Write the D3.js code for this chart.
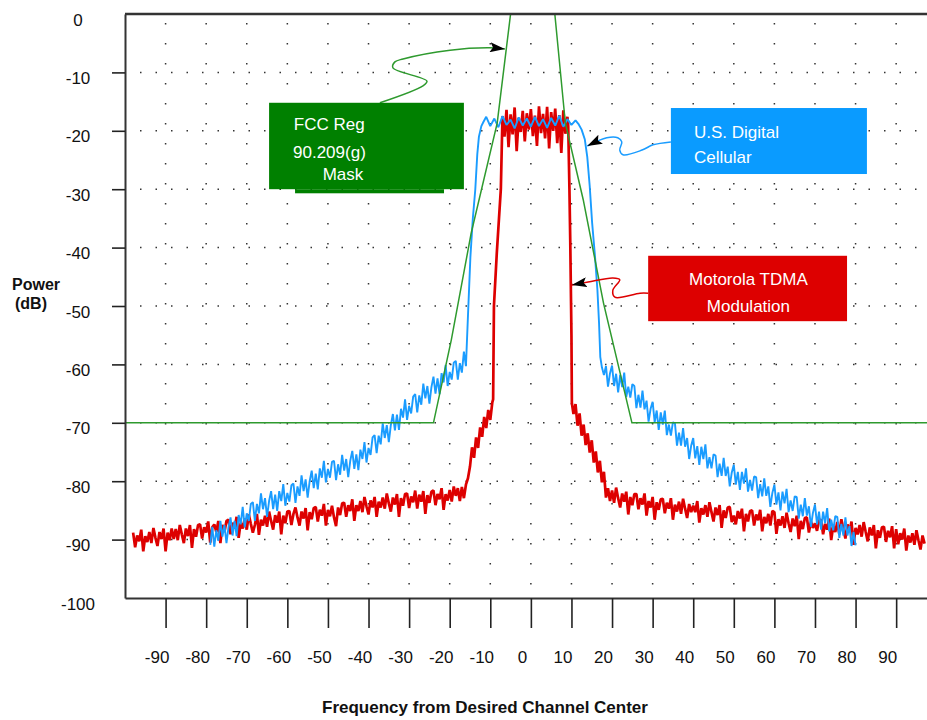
<!DOCTYPE html>
<html lang="en">

<head>
    <meta charset="utf-8">
    <script src='https://d3js.org/d3.v7.min.js'></script>
    <style>
        body { margin: 0; background: #fff; }
    </style>
</head>

<body>
    <div class="chart"></div>

    <script>
        // Tick labels
        const xTicks = [-90, -80, -70, -60, -50, -40, -30, -20, -10, 0, 10, 20, 30, 40, 50, 60, 70, 80, 90];
        const yTicks = [0, -10, -20, -30, -40, -50, -60, -70, -80, -90, -100];

        // FCC 90.209(g) mask (freq, dB)
        const maskFreq = [-100, -24, -19.6, -14.7, -8.3, -5, 5.9, 8.5, 12.9, 17.9, 24.9, 97.6];
        const maskPower = [-70, -70, -55.8, -37.5, -18.7, 0, 0, -18.7, -31.8, -49.5, -70, -70];

        // U.S. Digital Cellular trace
        const blueLowStart = -79; // half unit steps
        const blueLow = [-90.9, -87.8, -91.2, -88.4, -90.2, -86.8, -89.5, -87.5, -90.6, -87.9,
            -86.2, -89.3, -86.8, -89.4, -85.8, -87.4, -84.4, -87.9, -85.5, -86.8,
            -83.9, -83.6, -86.8, -83.9, -85.5, -82.1, -84.8, -82.9, -86.1, -83.4,
            -81.7, -84.8, -82.3, -85.1, -81.7, -83.4, -80.5, -84.2, -82.0, -83.5,
            -80.7, -80.4, -83.7, -80.9, -82.5, -79.0, -81.7, -79.7, -82.8, -80.0,
            -78.2, -81.2, -78.7, -81.4, -77.8, -79.4, -76.5, -80.2, -77.9, -79.4,
            -76.7, -76.5, -79.8, -77.1, -78.9, -75.5, -78.2, -76.2, -79.3, -76.5,
            -74.8, -77.9, -75.4, -78.1, -74.6, -76.2, -73.3, -76.8, -74.3, -75.5,
            -72.5, -72.1, -75.2, -72.2, -73.7, -70.1, -72.6, -70.4, -73.3, -70.4,
            -68.5, -71.3, -68.6, -71.2, -67.6, -69.1, -66.0, -69.5, -67.1, -68.4,
            -65.5, -65.1, -68.2, -65.3, -66.9, -63.3, -65.8, -63.7, -66.7, -63.9,
            -62.1, -65.0, -62.4, -65.1, -61.5, -63.1, -60.1, -63.7, -61.3, -62.6,
            -59.7, -59.4, -62.6, -59.8, -61.4, -57.8, -60.3];
        const blueEdgeFreq = [-15.4, -14.9, -14.3, -13.7, -13.2, -12.8, -12.2, -11.7];
        const blueEdgePower = [-50, -41.6, -35, -30.1, -24, -21, -19.2, -18.5];
        const blueTopStart = -11; // one value per unit
        const blueTop = [-17.6, -19.2, -17.9, -19.4, -17.5, -19.0, -18.1, -19.6, -17.7, -19.1,
            -17.9, -19.3, -17.6, -19.2, -18.0, -19.5, -17.8, -19.1, -17.4, -19.3,
            -18.0, -19.0, -18.2];
        const blueFallFreq = [11.7, 12.5, 13.3, 13.9, 14.5, 15.1, 15.8, 16.4, 16.8, 17.1, 17.5];
        const blueFallPower = [-18.8, -19.8, -21.5, -24.5, -29.5, -35.8, -41.5, -47.3, -53, -58.7, -60.5];
        const blueHighStart = 18; // half unit steps
        const blueHigh = [-61.8, -60.3, -63.8, -61.5, -60.2, -63.7, -61.6, -64.8, -61.8, -63.9,
            -61.4, -65.6, -63.8, -65.7, -63.4, -63.7, -67.5, -65.2, -67.4, -64.5,
            -67.7, -66.2, -69.8, -67.6, -66.4, -69.9, -67.9, -71.2, -68.2, -70.3,
            -67.9, -72.1, -70.3, -72.2, -69.9, -70.1, -73.9, -71.7, -73.9, -70.9,
            -74.1, -72.6, -76.2, -73.9, -72.6, -76.1, -74.0, -77.2, -74.1, -76.2,
            -73.7, -77.8, -75.9, -77.8, -75.4, -75.6, -79.3, -77.0, -79.1, -76.0,
            -79.1, -77.5, -80.9, -78.5, -77.2, -80.6, -78.4, -81.5, -78.4, -80.4,
            -77.8, -81.8, -79.8, -81.6, -79.2, -79.3, -82.9, -80.5, -82.6, -79.5,
            -82.5, -80.9, -84.4, -82.0, -80.6, -84.0, -81.9, -85.0, -81.8, -83.8,
            -81.3, -85.3, -83.3, -85.1, -82.6, -82.7, -86.4, -84.0, -86.0, -82.9,
            -85.9, -84.3, -87.8, -85.4, -84.0, -87.4, -85.2, -88.3, -85.2, -87.2,
            -84.6, -88.6, -86.6, -88.4, -86.0, -86.1, -89.7, -87.3, -89.3, -86.2,
            -89.3, -87.7, -91.1, -88.7, -91.0];

        // Motorola TDMA trace
        const redLowStart = -98; // half unit steps
        const redLow = [-88.8, -91.3, -89.3, -90.3, -88.3, -92.0, -89.4, -90.4, -88.7, -90.6,
            -88.0, -89.7, -91.1, -88.7, -89.9, -88.1, -92.0, -88.8, -90.1, -88.1,
            -89.9, -88.2, -90.1, -87.5, -89.1, -90.6, -88.1, -89.4, -87.5, -91.4,
            -88.2, -89.5, -87.5, -87.4, -89.8, -87.9, -88.8, -86.9, -90.5, -87.9,
            -87.4, -88.7, -86.8, -90.6, -87.5, -88.7, -86.8, -86.6, -89.1, -87.1,
            -88.1, -86.1, -89.7, -87.1, -88.1, -86.4, -88.3, -85.7, -87.3, -88.8,
            -87.5, -85.6, -89.2, -86.6, -87.6, -85.9, -87.8, -85.2, -86.8, -88.3,
            -85.8, -87.1, -85.2, -89.1, -85.9, -87.2, -85.2, -85.1, -87.5, -85.6,
            -84.5, -86.2, -87.6, -85.2, -86.4, -84.6, -88.4, -85.3, -86.5, -84.6,
            -84.4, -86.9, -84.9, -85.9, -83.9, -87.6, -84.9, -86.0, -84.2, -86.2,
            -87.7, -84.5, -85.8, -83.8, -83.7, -86.1, -84.1, -85.1, -83.1, -86.8,
            -84.1, -85.1, -83.4, -85.3, -82.7, -84.3, -85.7, -83.3, -84.5, -82.7,
            -86.1, -83.5, -84.5, -82.8, -84.7, -82.1, -83.8, -85.2, -82.8, -84.0,
            -82.2, -86.1, -82.9, -84.2, -82.2, -82.1, -84.6, -82.6, -83.6, -81.6,
            -84.7, -82.3, -83.5, -81.7, -85.6, -82.4, -83.7, -81.8, -81.6, -84.1,
            -82.2, -83.1, -81.2, -84.9, -82.2, -83.3, -81.5, -83.5, -80.9, -82.5,
            -81.2, -83.4, -81.0, -82.9, -80.6];
        const redRiseFreq = [-15.5, -15, -14.5, -14, -13.5, -13, -12.5, -12, -11.5, -11,
            -10.5, -10, -9.5, -9.3, -9.1, -8.4, -7.4, -7.0];
        const redRisePower = [-79.5, -77.5, -74.2, -76.0, -72.5, -74.3, -70.8, -72.4, -69.0, -70.9,
            -67.8, -69.5, -66.5, -66, -50, -41, -30, -17.5];
        const redTopStart = -6.5; // half unit steps
        const redTop = [-21.0, -16.4, -22.8, -17.2, -20.6, -16.0, -23.5, -17.8, -20.2, -16.6,
            -21.8, -17.0, -19.8, -16.3, -20.9, -17.4, -22.6, -15.8, -20.4, -17.1,
            -21.3, -15.9, -23.0, -16.8, -20.0, -16.2, -22.1, -17.3, -23.8, -16.5,
            -20.5, -17.6];
        const redFallFreq = [9.2, 9.5, 9.7, 10.0, 10.1, 10.5, 11, 11.5, 12, 12.5,
            13, 13.5, 14, 14.5, 15, 15.5, 16, 16.5, 17, 17.5, 18, 18.5, 19, 19.5];
        const redFallPower = [-19, -30, -38.7, -55, -66.6, -68.5, -66.8, -70.5, -68.4, -72.2,
            -70.3, -73.8, -71.8, -75.1, -73.0, -76.8, -74.9, -78.5, -76.5, -80.2,
            -78.4, -82.8, -81.2, -83.4];
        const redHighStart = 20; // half unit steps
        const redHigh = [-81.6, -83.7, -81.1, -82.9, -84.5, -82.1, -83.5, -81.8, -85.7, -82.7,
            -84.1, -82.2, -82.2, -84.8, -82.9, -84.0, -82.1, -85.9, -83.4, -84.5,
            -82.7, -86.6, -83.6, -84.9, -83.1, -83.0, -85.5, -83.7, -84.7, -82.9,
            -86.6, -84.0, -85.2, -83.5, -85.6, -83.0, -84.7, -86.3, -83.9, -85.3,
            -84.2, -85.3, -83.4, -87.1, -84.6, -85.7, -84.1, -86.1, -83.6, -85.3,
            -86.9, -84.5, -85.8, -84.1, -88.0, -85.0, -86.3, -84.5, -84.4, -87.0,
            -85.9, -87.4, -85.1, -86.4, -84.7, -88.6, -85.6, -86.9, -85.1, -85.0,
            -87.6, -85.7, -86.7, -84.9, -88.6, -86.1, -87.2, -85.6, -87.6, -85.1,
            -85.3, -89.0, -86.5, -87.6, -86.0, -88.0, -85.4, -87.2, -88.7, -86.4,
            -87.7, -85.9, -89.9, -86.8, -88.2, -86.3, -86.2, -88.8, -86.9, -88.0,
            -87.2, -88.5, -86.7, -86.6, -89.1, -87.3, -88.3, -86.4, -90.1, -87.6,
            -88.7, -87.0, -89.1, -86.5, -88.2, -89.8, -87.4, -88.7, -86.9, -90.9,
            -88.0, -89.1, -87.5, -89.5, -87.0, -88.7, -90.3, -87.9, -89.3, -87.5,
            -91.5, -88.4, -89.7, -87.9, -87.8, -90.4, -88.5, -89.6, -87.7, -91.5,
            -88.2, -90.8, -88.9, -90.0, -88.1, -91.9, -89.3, -90.5, -88.9, -90.9,
            -88.4, -90.1, -91.7, -89.3, -90.7];

        // helpers to turn the arrays into points
        const pairs = (fs, ps) => fs.map((f, i) => ({ f: f, p: ps[i] }));
        const steps = (start, step, ps) => ps.map((p, i) => ({ f: start + i * step, p: p }));

        const maskData = pairs(maskFreq, maskPower);
        const blueData = [].concat(steps(blueLowStart, 0.5, blueLow), pairs(blueEdgeFreq, blueEdgePower),
            steps(blueTopStart, 1, blueTop), pairs(blueFallFreq, blueFallPower), steps(blueHighStart, 0.5, blueHigh));
        const redData = [].concat(steps(redLowStart, 0.5, redLow), pairs(redRiseFreq, redRisePower),
            steps(redTopStart, 0.5, redTop), pairs(redFallFreq, redFallPower), steps(redHighStart, 0.5, redHigh));

        const width = 927;
        const height = 720;
        const font = "'Liberation Sans', Arial, sans-serif";

        const svg = d3.select(".chart")
            .append("svg")
            .attr("width", width)
            .attr("height", height)
            .style("font-family", font);

        // scales (the frame runs off the right edge)
        const x = d3.scaleLinear().domain([-100, 97.6]).range([125, 927]);
        const y = d3.scaleLinear().domain([0, -100]).range([14, 598]);

        // dotted grid
        svg.append("g").selectAll("line")
            .data(xTicks)
            .join("line")
            .attr("x1", d => x(d)).attr("x2", d => x(d))
            .attr("y1", y(0) + 9).attr("y2", y(-100))
            .attr("stroke", "#333").attr("stroke-width", 1.5)
            .attr("stroke-dasharray", "1.5 18.5");
        svg.append("g").selectAll("line")
            .data(yTicks.slice(1, -1))
            .join("line")
            .attr("x1", x(-100) + 15).attr("x2", width)
            .attr("y1", d => y(d)).attr("y2", d => y(d))
            .attr("stroke", "#333").attr("stroke-width", 1.5)
            .attr("stroke-dasharray", "1.5 14");

        const line = d3.line()
            .x(d => x(d.f))
            .y(d => y(d.p));

        // traces: red under blue, mask on top
        svg.append("path")
            .datum(redData)
            .attr("fill", "none").attr("stroke", "#dd0000").attr("stroke-width", 2.7)
            .attr("stroke-linejoin", "bevel")
            .attr("d", line);
        svg.append("path")
            .datum(blueData)
            .attr("fill", "none").attr("stroke", "#1a9cff").attr("stroke-width", 1.9)
            .attr("stroke-linejoin", "bevel")
            .attr("d", line);
        svg.append("path")
            .datum(maskData)
            .attr("fill", "none").attr("stroke", "#2e9a2e").attr("stroke-width", 1.5)
            .attr("d", line);

        // bottom axis
        const xAxis = svg.append("g")
            .attr("transform", "translate(0," + y(-100) + ")")
            .call(d3.axisBottom(x).tickValues(xTicks).tickSize(30).tickSizeOuter(0).tickFormat(d => String(d)));
        xAxis.select(".domain").attr("stroke", "#333").attr("stroke-width", 2);
        xAxis.selectAll(".tick line").attr("stroke", "#222").attr("stroke-width", 1.6);
        xAxis.selectAll(".tick text")
            .attr("x", -9).attr("y", 65).attr("dy", null)
            .attr("fill", "#111")
            .style("font-family", font).style("font-size", "17px");

        // left axis
        const yAxis = svg.append("g")
            .attr("transform", "translate(" + x(-100) + ",0)")
            .call(d3.axisLeft(y).tickValues(yTicks).tickSize(13).tickSizeOuter(0).tickFormat(d => String(d)));
        yAxis.select(".domain").attr("stroke", "#333").attr("stroke-width", 2);
        yAxis.selectAll(".tick line")
            .attr("stroke", "#222").attr("stroke-width", 1.6)
            .attr("opacity", d => (d === 0 || d === -100) ? 0 : 1);
        yAxis.selectAll(".tick text")
            .attr("x", -47).attr("y", 11).attr("dy", null)
            .attr("text-anchor", "middle")
            .attr("fill", "#111")
            .style("font-family", font).style("font-size", "17px");

        // top border
        svg.append("line")
            .attr("x1", x(-100)).attr("x2", width)
            .attr("y1", y(0)).attr("y2", y(0))
            .attr("stroke", "#333").attr("stroke-width", 2.5);

        // axis titles
        svg.append("text")
            .attr("x", 485).attr("y", 713)
            .attr("text-anchor", "middle")
            .style("font-weight", "bold").style("font-size", "17px")
            .attr("fill", "#111")
            .text("Frequency from Desired Channel Center");
        svg.append("text")
            .attr("x", 12).attr("y", 290)
            .style("font-weight", "bold").style("font-size", "16px")
            .attr("fill", "#111")
            .text("Power");
        svg.append("text")
            .attr("x", 15).attr("y", 309)
            .style("font-weight", "bold").style("font-size", "16px")
            .attr("fill", "#111")
            .text("(dB)");

        // arrow head
        svg.append("defs").append("marker")
            .attr("id", "arrow")
            .attr("markerUnits", "userSpaceOnUse")
            .attr("markerWidth", 16).attr("markerHeight", 10)
            .attr("refX", 15).attr("refY", 5)
            .attr("orient", "auto")
            .append("path")
            .attr("d", "M0,0 L15,5 L0,10 L3,5 Z")
            .attr("fill", "#000");

        // annotation boxes, placed in data units
        const notes = [
            {
                color: "#008000", line: "#2e9a2e", f0: -64.5, f1: -16.5, p0: -15.2, p1: -30,
                lines: ["FCC Reg", "90.209(g)", "Mask"], tx: [-58.4, -58.6, -51.3], ty: [-19.8, -24.6, -28.4],
                path: [[-37.2, -15.2], [-26.6, -12.3], [-25.6, -11.5], [-34.0, -9.2], [-33.5, -8.2], [-31.5, -7.7], [-19.9, -6.2], [-10.1, -5.8], [-6.4, -6.0]]
            },
            {
                color: "#0a9bff", line: "#1a9cff", f0: 34.5, f1: 82.8, p0: -16.1, p1: -27.4,
                lines: ["U.S. Digital", "Cellular"], tx: [40.2, 40.2], ty: [-21.2, -25.5],
                path: [[34.5, -21.9], [30.1, -22.4], [27.4, -23.3], [22.7, -24.1], [21.9, -23.3], [22.4, -21.9], [21.4, -21.2], [18.7, -21.2], [13.9, -22.6]]
            },
            {
                color: "#dd0000", line: "#dd0000", f0: 28.9, f1: 77.9, p0: -41.4, p1: -52.6,
                lines: ["Motorola TDMA", "Modulation"], tx: [53.6, 53.6], ty: [-46.4, -51.0], mid: true,
                path: [[28.9, -47.8], [26.9, -47.8], [20.7, -48.5], [20.2, -47.3], [21.9, -45.5], [20.2, -45.2], [14.1, -45.9], [10.1, -46.4]]
            }
        ];

        const noteLine = d3.line()
            .x(d => x(d[0]))
            .y(d => y(d[1]))
            .curve(d3.curveCatmullRom);

        notes.forEach(n => {
            svg.append("path")
                .attr("d", noteLine(n.path))
                .attr("fill", "none").attr("stroke", n.line).attr("stroke-width", 1.5)
                .attr("marker-end", "url(#arrow)");
            svg.append("rect")
                .attr("x", x(n.f0)).attr("y", y(n.p0))
                .attr("width", x(n.f1) - x(n.f0)).attr("height", y(n.p1) - y(n.p0))
                .attr("fill", n.color);
            n.lines.forEach((t, i) => {
                svg.append("text")
                    .attr("x", x(n.tx[i])).attr("y", y(n.ty[i]))
                    .attr("text-anchor", n.mid ? "middle" : "start")
                    .attr("fill", "#fff")
                    .style("font-size", "17px")
                    .text(t);
            });
        });
        // small tab under the mask box
        svg.append("rect")
            .attr("x", x(-58.1)).attr("y", y(-30))
            .attr("width", x(-21.4) - x(-58.1)).attr("height", y(-30.7) - y(-30))
            .attr("fill", "#008000");
    </script>
</body>

</html>
